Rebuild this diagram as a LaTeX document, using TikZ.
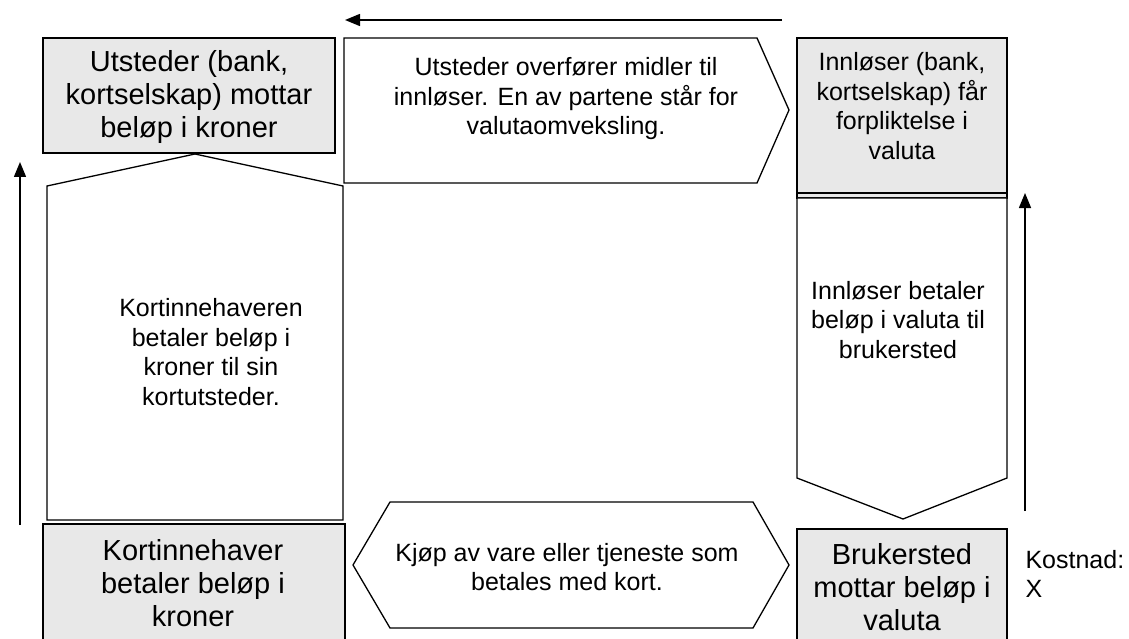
\documentclass[tikz,border=0pt]{standalone}
\usepackage{fontspec}
\setmainfont{Liberation Sans}
\usetikzlibrary{arrows.meta}

\definecolor{boxgray}{RGB}{232,232,232}
\tikzset{
  boxline/.style={draw=black,line width=1.3pt,line join=miter},
  graybox/.style={boxline,fill=boxgray},
  bigtext/.style={align=center,font=\fontsize{29}{33}\selectfont},
  smalltext/.style={align=center,font=\fontsize{25}{29.5}\selectfont},
  flow/.style={-{Triangle[length=15pt,width=12pt]},line width=1.5pt},
}

\begin{document}
\begin{tikzpicture}[x=1pt,y=-1pt]
		\clip (0,0) rectangle (1129,639);

		% the four parties
		\draw[graybox] (43,38) rectangle (335,153);
		\draw[graybox] (797,38) rectangle (1007,198);
		\draw[boxline] (797,193) -- (1007,193);
		\draw[graybox] (43,524) rectangle (345,660);
		\draw[graybox] (797,529) rectangle (1007,660);

		% the flows between them
		\draw[boxline,fill=white] (47,520) -- (47,186) -- (195,154) -- (343,186) -- (343,520) -- cycle;
		\draw[boxline,fill=white] (344,38) -- (757,38) -- (789,110) -- (757,183) -- (344,183) -- cycle;
		\draw[boxline,fill=white] (797,198) -- (1007,198) -- (1007,478) -- (903,519) -- (797,478) -- cycle;
		\draw[boxline,fill=white] (353,565) -- (390,502) -- (753,502) -- (789,565) -- (753,628) -- (390,628) -- cycle;

		% texts
		\node[bigtext] (utsteder) at (189,97) {Utsteder (bank,\\kortselskap) mottar\\beløp i kroner};
		\node[smalltext] (overforing) at (566,99) {Utsteder overfører midler til\\innløser. En av partene står for\\valutaomveksling.};
		\node[smalltext] (innloser) at (902,106) {Innløser (bank,\\kortselskap) får\\forpliktelse i\\valuta};
		\node[smalltext] (utbetaling) at (898,320) {Innløser betaler\\beløp i valuta til\\brukersted};
		\node[smalltext] (innbetaling) at (211,352) {Kortinnehaveren\\betaler beløp i\\kroner til sin\\kortutsteder.};
		\node[bigtext] (kortinnehaver) at (193,583) {Kortinnehaver\\betaler beløp i\\kroner};
		\node[smalltext] (kjop) at (567,567) {Kjøp av vare eller tjeneste som\\betales med kort.};
		\node[bigtext] (brukersted) at (902,587) {Brukersted\\mottar beløp i\\valuta};
		\node[smalltext,align=left,anchor=west] (kostnad) at (1022,574) {Kostnad:\\X};

		% arrows
		\coordinate (top from) at (782,20);
		\coordinate (top to) at (345,20);
		\coordinate (left from) at (20,525);
		\coordinate (left to) at (20,162);
		\coordinate (right from) at (1025,511);
		\coordinate (right to) at (1025,193);
		\draw[flow] (top from) -- (top to);
		\draw[flow] (left from) -- (left to);
		\draw[flow] (right from) -- (right to);
\end{tikzpicture}
\end{document}
